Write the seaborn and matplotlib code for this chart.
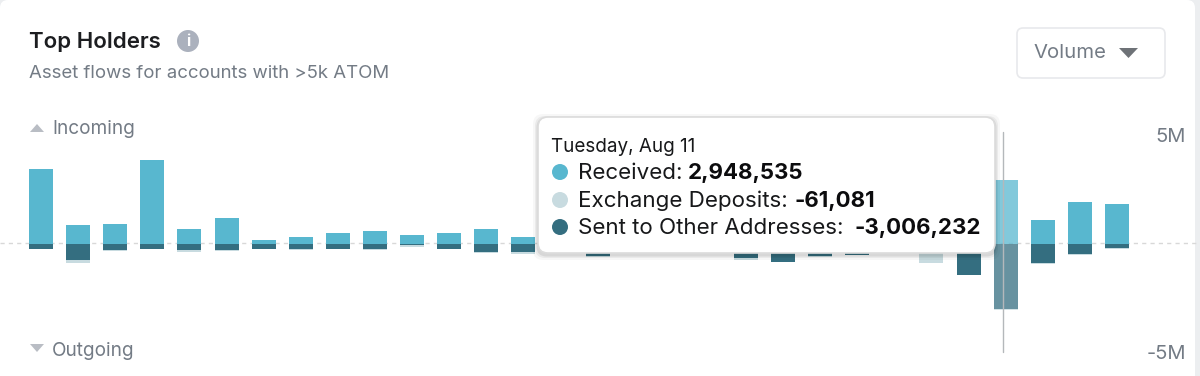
import matplotlib
matplotlib.use("Agg")
import matplotlib.pyplot as plt
import seaborn as sns
import pandas as pd
from matplotlib.patches import FancyBboxPatch, Polygon, Circle
from matplotlib.transforms import Affine2D

# values in millions (bars behind the tooltip are guesses)
days = list(pd.date_range("2020-07-16", "2020-08-14").strftime("%b %d"))
received = [3.44, 0.83, 0.90, 3.87, 0.66, 1.16, 0.16, 0.32, 0.49, 0.58,
            0.39, 0.49, 0.66, 0.32, 0.30, 0.40, 0.35, 0.30, 0.45, 0.55,
            0.60, 0.40, 0.35, 0.30, 0.60, 0.95, 2.948535, 1.08, 1.92, 1.84]
sent = [0.25, 0.74, 0.32, 0.25, 0.32, 0.32, 0.25, 0.25, 0.25, 0.25,
        0.09, 0.25, 0.41, 0.41, 0.20, 0.58, 0.20, 0.25, 0.20, 0.66,
        0.83, 0.58, 0.52, 0.20, 0.25, 1.43, 3.006232, 0.92, 0.50, 0.23]
exchange = [0.02, 0.14, 0.02, 0.02, 0.07, 0.02, 0.02, 0.04, 0.02, 0.03,
            0.06, 0.02, 0.02, 0.08, 0.02, 0.05, 0.02, 0.02, 0.02, 0.08,
            0.02, 0.02, 0.02, 0.02, 0.65, 0.02, 0.061081, 0.02, 0.03, 0.03]
hover_idx = 26

RECEIVED_COL = "#58b7cf"
EXCHANGE_COL = "#c8dbe0"
SENT_COL = "#346e80"
GREY = "#737b85"

sns.set_style("white")
plt.rcParams["font.family"] = ["Inter", "DejaVu Sans"]

fig = plt.figure(figsize=(12, 3.76), dpi=100, facecolor="#eceef0")
ax = fig.add_axes([0, 0, 1, 1], facecolor="none")

# pixel coordinates for the card furniture, origin top left
px = Affine2D().scale(1 / 1200, -1 / 376).translate(0, 1) + fig.transFigure

neg_sent = [-v for v in sent]
neg_exchange = [-v for v in exchange]
w = 24 / 37.1
sns.barplot(x=days, y=received, color=RECEIVED_COL, saturation=1, width=w, ax=ax, zorder=2, linewidth=0)
sns.barplot(x=days, y=neg_exchange, bottom=neg_sent, color=EXCHANGE_COL, saturation=1, width=w, ax=ax, zorder=2, linewidth=0)
sns.barplot(x=days, y=neg_sent, color=SENT_COL, saturation=1, width=w, ax=ax, zorder=2, linewidth=0)

for container in ax.containers:
    container[hover_idx].set_alpha(0.75)

ax.axhline(0.03, color="#d8d8d8", lw=1, ls=(0, (3, 3)), zorder=1)
ax.plot([hover_idx - 0.06] * 2, [-4.98, 5.15], color="#b4b8bb", lw=1, zorder=3)

ax.set_xlim((0 - 41) / 37.1, (1200 - 41) / 37.1)
ax.set_ylim(-(376 - 243.5) / 21.7, 243.5 / 21.7)
ax.set_xticks([])
ax.yaxis.tick_right()
ax.set_yticks([5, -5], labels=["5M", "-5M"])
ax.tick_params(axis="y", length=0, pad=-10, labelsize=14.5, labelcolor=GREY)
for lab in ax.get_yticklabels():
    lab.set_ha("right")
sns.despine(ax=ax, left=True, right=True, top=True, bottom=True)

# card background
ax.add_patch(FancyBboxPatch((8, 8), 1179, 400, boxstyle="round,pad=8,rounding_size=8", transform=px,
                            fc="white", ec="none", zorder=0, clip_on=False))

# header
ax.text(29, 41.5, "Top Holders", transform=px, fontsize=16, fontweight="semibold", color="#1c1d20", va="center")
ax.text(29, 73, "Asset flows for accounts with >5k ATOM", transform=px, fontsize=13.4, color=GREY, va="center")
ax.add_patch(Circle((188, 41), 11, transform=px, fc="#abb1bd", ec="none"))
ax.text(188, 41, "i", transform=px, fontsize=11, fontweight="bold", color="white", ha="center", va="center")

# dropdown
ax.add_patch(FancyBboxPatch((1021, 32), 140, 42, boxstyle="round,pad=4,rounding_size=6", transform=px,
                            fc="white", ec="#e8e9ec", lw=1.2))
ax.text(1033, 53, "Volume", transform=px, fontsize=14.6, color=GREY, va="center")
ax.add_patch(Polygon([(1119, 48), (1138, 48), (1128.5, 58)], transform=px, fc="#6e7277", ec="none"))

# incoming / outgoing labels
ax.add_patch(Polygon([(30, 132), (44, 132), (37, 124)], transform=px, fc="#b9bdc4", ec="none"))
ax.text(52, 129, "Incoming", transform=px, fontsize=13.7, color=GREY, va="center")
ax.add_patch(Polygon([(30, 344), (44, 344), (37, 352)], transform=px, fc="#b9bdc4", ec="none"))
ax.text(52, 351, "Outgoing", transform=px, fontsize=13.7, color=GREY, va="center")

# tooltip with soft shadow
for grow, alpha in [(5, 0.03), (3, 0.05), (1.5, 0.08)]:
    ax.add_patch(FancyBboxPatch((546 - grow, 125 - grow + 2), 441 + 2 * grow, 120 + 2 * grow,
                                boxstyle="round,pad=8,rounding_size=10", transform=px,
                                fc="black", ec="none", alpha=alpha, zorder=9))
ax.add_patch(FancyBboxPatch((546, 125), 441, 120, boxstyle="round,pad=8,rounding_size=10", transform=px,
                            fc="white", ec="#dcdcdc", lw=1.2, zorder=10))
ax.text(551, 147, "Tuesday, Aug 11", transform=px, fontsize=13.6, color="#17181a", va="center", zorder=11)

rows = [
    (172, RECEIVED_COL, "Received:", "2,948,535", 688),
    (200, EXCHANGE_COL, "Exchange Deposits:", "-61,081", 795),
    (227, SENT_COL, "Sent to Other Addresses:", "-3,006,232", 854),
]
for y, col, label, val, val_x in rows:
    ax.add_patch(Circle((560, y), 8, transform=px, fc=col, ec="none", zorder=11))
    ax.text(578, y + 1, label, transform=px, fontsize=16.1, color="#17181a", va="center", zorder=11)
    ax.text(val_x, y + 1, val, transform=px, fontsize=16, fontweight="bold", color="#0c0c0e", va="center", zorder=11)

fig.savefig("out.png", dpi=100, facecolor=fig.get_facecolor())
